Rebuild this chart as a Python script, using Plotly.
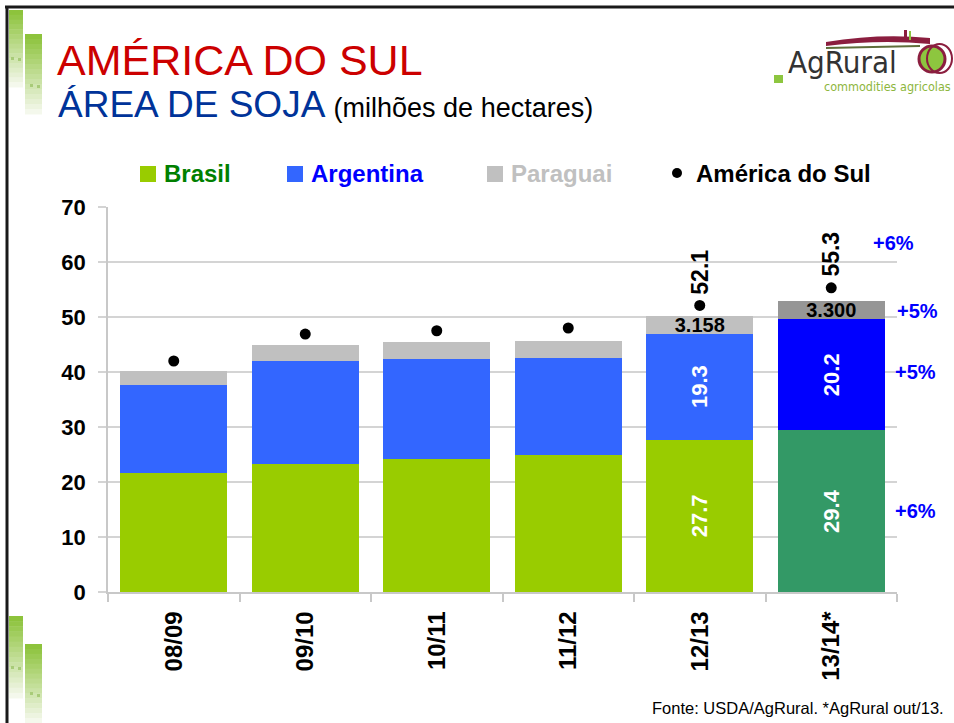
import plotly.graph_objects as go

# ---------------- data ----------------
categories = ["08/09", "09/10", "10/11", "11/12", "12/13", "13/14*"]
brasil = [21.7, 23.3, 24.2, 24.9, 27.7, 29.4]
argentina = [15.9, 18.7, 18.2, 17.6, 19.3, 20.2]
paraguai = [2.6, 2.9, 3.1, 3.1, 3.158, 3.3]
america_sul = [42.0, 46.9, 47.5, 48.0, 52.1, 55.3]
labeled = [4, 5]  # seasons that carry value labels
y_ticks = [0, 10, 20, 30, 40, 50, 60, 70]
growth_labels = ["+6%", "+5%", "+5%", "+6%"]  # total, Paraguai, Argentina, Brasil

FONT = "Liberation Sans, Arial, sans-serif"
W, H = 954, 723
L, R, T, B = 108, 57, 207, 131
PW, PH = W - L - R, H - T - B


def px(x):
    return (x - L) / PW


def py(y):
    return (H - B - y) / PH


n = len(categories)
c_br = ["#99CC00"] * (n - 1) + ["#339966"]
c_ar = ["#3366FF"] * (n - 1) + ["#0000FF"]
c_pa = ["#C0C0C0"] * (n - 1) + ["#969696"]

fig = go.Figure()
fig.add_trace(go.Bar(
    x=categories, y=brasil, name="Brasil", marker=dict(color=c_br, line=dict(width=0)),
    text=[f"{v:.1f}" if i in labeled else "" for i, v in enumerate(brasil)],
    textposition="inside", insidetextanchor="middle", textangle=-90, constraintext="none",
    textfont=dict(family=FONT, size=22, color="white", weight="bold"),
))
fig.add_trace(go.Bar(
    x=categories, y=argentina, name="Argentina", marker=dict(color=c_ar, line=dict(width=0)),
    text=[f"{v:.1f}" if i in labeled else "" for i, v in enumerate(argentina)],
    textposition="inside", insidetextanchor="middle", textangle=-90, constraintext="none",
    textfont=dict(family=FONT, size=22, color="white", weight="bold"),
))
fig.add_trace(go.Bar(
    x=categories, y=paraguai, name="Paraguai", marker=dict(color=c_pa, line=dict(width=0)),
    text=[f"{v:.3f}" if i in labeled else "" for i, v in enumerate(paraguai)],
    textposition="inside", insidetextanchor="middle", textangle=0, constraintext="none",
    textfont=dict(family=FONT, size=20, color="black", weight="bold"),
))
fig.add_trace(go.Scatter(
    x=categories, y=america_sul, name="América do Sul", mode="markers",
    marker=dict(color="black", size=11),
))

annotations = []
for i in labeled:
    annotations.append(dict(
        x=categories[i], y=america_sul[i], xref="x", yref="y", text=f"{america_sul[i]:.1f}",
        textangle=-90, showarrow=False, yanchor="bottom", yshift=9,
        font=dict(family=FONT, size=23, color="black", weight="bold"),
    ))

# growth percentages on the right
for txt, (gx, gy) in zip(growth_labels, [(893, 243), (918, 311), (915, 372), (915, 511)]):
    annotations.append(dict(
        x=px(gx), y=py(gy), xref="paper", yref="paper", text=txt, showarrow=False,
        xanchor="center", yanchor="middle",
        font=dict(family=FONT, size=20, color="#0000FF", weight="bold"),
    ))

# titles
annotations += [
    dict(x=px(55), y=py(60), xref="paper", yref="paper", text="AMÉRICA DO SUL", showarrow=False,
         xanchor="left", yanchor="middle", font=dict(family=FONT, size=43, color="#CC0000")),
    dict(x=px(56), y=py(105), xref="paper", yref="paper",
         text="ÁREA DE SOJA <span style='font-size:27px;color:#000000'>(milhões de hectares)</span>",
         showarrow=False, xanchor="left", yanchor="middle",
         font=dict(family=FONT, size=37, color="#003399")),
    dict(x=px(650), y=py(708), xref="paper", yref="paper",
         text="Fonte: USDA/AgRural. *AgRural out/13.", showarrow=False,
         xanchor="left", yanchor="middle", font=dict(family=FONT, size=16.5, color="black")),
]

shapes = []

# legend (manual, to match the reference spacing)
leg = [("Brasil", "#99CC00", "#008000", 140), ("Argentina", "#3366FF", "#0000FF", 287),
       ("Paraguai", "#C0C0C0", "#C0C0C0", 487)]
for name, fill, tcol, x0 in leg:
    shapes.append(dict(type="rect", xref="paper", yref="paper", x0=px(x0), x1=px(x0 + 16),
                       y0=py(182), y1=py(166), fillcolor=fill, line=dict(width=0)))
    annotations.append(dict(x=px(x0 + 22), y=py(173), xref="paper", yref="paper", text=name,
                            showarrow=False, xanchor="left", yanchor="middle",
                            font=dict(family=FONT, size=24, color=tcol, weight="bold")))
shapes.append(dict(type="circle", xref="paper", yref="paper", x0=px(672), x1=px(682),
                   y0=py(178), y1=py(168), fillcolor="black", line=dict(width=0)))
annotations.append(dict(x=px(694), y=py(173), xref="paper", yref="paper", text="América do Sul",
                        showarrow=False, xanchor="left", yanchor="middle",
                        font=dict(family=FONT, size=24, color="black", weight="bold")))

# frame lines
shapes.append(dict(type="line", xref="paper", yref="paper", x0=px(5), x1=px(954), y0=py(7), y1=py(7),
                   line=dict(color="#1A1A1A", width=3)))
shapes.append(dict(type="line", xref="paper", yref="paper", x0=px(7), x1=px(7), y0=py(6), y1=py(723),
                   line=dict(color="#1A1A1A", width=3)))


# left green gradient decorations
def grad_rect(x0, y0, x1, y1, steps=16):
    top = (141, 195, 60)
    bot = (244, 248, 236)
    h = (y1 - y0) / steps
    for k in range(steps):
        t = k / (steps - 1)
        c = tuple(int(top[j] + (bot[j] - top[j]) * t) for j in range(3))
        shapes.append(dict(type="rect", xref="paper", yref="paper", x0=px(x0), x1=px(x1),
                           y0=py(y0 + (k + 1) * h + 0.5), y1=py(y0 + k * h),
                           fillcolor="rgb(%d,%d,%d)" % c, line=dict(width=0), layer="below"))


grad_rect(9, 10, 23, 87)
grad_rect(25, 34, 42, 114)
grad_rect(9, 616, 23, 698)
grad_rect(25, 644, 42, 723)
for (dx, dy) in [(11, 57), (18, 58), (30, 84), (37, 85), (11, 666), (18, 667), (30, 692), (37, 694)]:
    shapes.append(dict(type="rect", xref="paper", yref="paper", x0=px(dx), x1=px(dx + 3),
                       y0=py(dy + 3), y1=py(dy), fillcolor="#A8CB78", line=dict(width=0)))

# logo
shapes += [
    dict(type="rect", xref="paper", yref="paper", x0=px(774), x1=px(783), y0=py(83), y1=py(75),
         fillcolor="#8DC63F", line=dict(width=0)),
    dict(type="path", xref="paper", yref="paper",
         path="M %f,%f Q %f,%f %f,%f L %f,%f Q %f,%f %f,%f Z" % (
             px(826), py(42), px(880), py(33), px(930), py(38),
             px(930), py(44), px(880), py(39), px(826), py(46)),
         fillcolor="#8B1E3F", line=dict(width=0)),
    dict(type="line", xref="paper", yref="paper", x0=px(826), x1=px(920), y0=py(48), y1=py(46),
         line=dict(color="#5E6E3A", width=2)),
    dict(type="rect", xref="paper", yref="paper", x0=px(904), x1=px(907), y0=py(40), y1=py(30),
         fillcolor="#8B1E3F", line=dict(width=0)),
    dict(type="rect", xref="paper", yref="paper", x0=px(909), x1=px(911), y0=py(40), y1=py(31),
         fillcolor="#8DC63F", line=dict(width=0)),
    dict(type="circle", xref="paper", yref="paper", x0=px(919), x1=px(945), y0=py(72), y1=py(46),
         fillcolor="#8DC63F", line=dict(color="#8B1E3F", width=3)),
    dict(type="circle", xref="paper", yref="paper", x0=px(927), x1=px(952), y0=py(73), y1=py(44),
         fillcolor="rgba(0,0,0,0)", line=dict(color="#8B1E3F", width=2)),
]
annotations += [
    dict(x=px(786), y=py(62), xref="paper", yref="paper", text="AgRural", showarrow=False,
         xanchor="left", yanchor="middle", font=dict(family="DejaVu Sans Condensed, " + FONT, size=31, color="#333333")),
    dict(x=px(822), y=py(86), xref="paper", yref="paper", text="commodities agricolas", showarrow=False,
         xanchor="left", yanchor="middle", font=dict(family="DejaVu Sans Condensed, " + FONT, size=12.5, color="#8DB63C")),
]

fig.update_layout(
    barmode="stack", bargap=0.19, showlegend=False,
    width=W, height=H, autosize=False,
    margin=dict(l=L, r=R, t=T, b=B, pad=0),
    paper_bgcolor="white", plot_bgcolor="white",
    annotations=annotations, shapes=shapes,
    xaxis=dict(
        tickangle=-90, tickfont=dict(family=FONT, size=24, color="black", weight="bold"),
        showline=True, linecolor="#C8C8C8", linewidth=1.5,
        ticks="outside", ticklen=8, tickcolor="#C8C8C8", tickwidth=1.5, tickson="boundaries",
        ticklabelstandoff=8, showgrid=False,
    ),
    yaxis=dict(
        range=[0, 70], tickvals=y_ticks,
        tickfont=dict(family=FONT, size=22, color="black", weight="bold"),
        showline=True, linecolor="#C8C8C8", linewidth=1.5,
        ticks="outside", ticklen=8, tickcolor="#D4D4D4", tickwidth=1.5,
        showgrid=True, gridcolor="#D4D4D4", gridwidth=1.5, zeroline=False,
        ticklabelstandoff=8,
    ),
)

fig.write_html(
    "out.html",
    config={"displayModeBar": False},
    post_script="document.body.style.margin='0';document.body.style.overflow='hidden';",
)
